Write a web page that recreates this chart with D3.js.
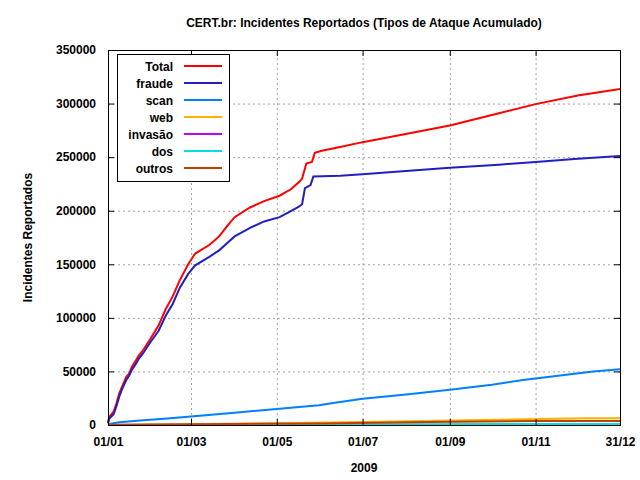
<!DOCTYPE html>
<html><head><meta charset="utf-8">
<script src="https://cdn.jsdelivr.net/npm/d3@7"></script>
<style>
body{margin:0;background:#fff}
svg{display:block}
text{font-family:"Liberation Sans",Arial,Helvetica,sans-serif;font-weight:bold;font-size:12px;fill:#000}
</style>
</head><body>
<svg id="c" width="640" height="480"></svg>
<script>
const titleText = "CERT.br: Incidentes Reportados (Tipos de Ataque Acumulado)";
const yLabel = "Incidentes Reportados";
const xLabel = "2009";
const seriesNames = ["Total","fraude","scan","web","invasão","dos","outros"];
const seriesColors = ["#ff0000","#2020c0","#0080ff","#ffb000","#c000ff","#00e0e0","#c04000"];
const xTickDates = ["2009-01-01","2009-03-01","2009-05-01","2009-07-01","2009-09-01","2009-11-01","2009-12-31"];
const xTickLabels = ["01/01","01/03","01/05","01/07","01/09","01/11","31/12"];
const yTicks = [0,50000,100000,150000,200000,250000,300000,350000];

const totalDates = ["2009-01-01","2009-01-02","2009-01-05","2009-01-07","2009-01-09","2009-01-11","2009-01-14","2009-01-16","2009-01-18","2009-01-21","2009-01-23","2009-01-26","2009-01-31","2009-02-06","2009-02-11","2009-02-16","2009-02-21","2009-02-27","2009-03-04","2009-03-14","2009-03-21","2009-03-27","2009-04-01","2009-04-12","2009-04-22","2009-05-03","2009-05-11","2009-05-17","2009-05-19","2009-05-22","2009-05-26","2009-05-28","2009-06-02","2009-06-15","2009-07-01","2009-07-27","2009-09-01","2009-10-06","2009-11-01","2009-12-01","2009-12-31"];
const totalValues = [3000,7800,12400,20200,29600,35700,45000,48000,54400,60700,65000,70000,80000,93000,108000,120000,135000,150000,160000,168000,176000,186000,194000,203000,209000,214000,220000,227000,230000,244000,245500,254000,256000,259500,264000,270500,279500,291000,299500,307500,313500];

const fraudeDates = ["2009-01-01","2009-01-02","2009-01-05","2009-01-07","2009-01-09","2009-01-11","2009-01-14","2009-01-16","2009-01-18","2009-01-21","2009-01-23","2009-01-26","2009-01-31","2009-02-06","2009-02-11","2009-02-16","2009-02-21","2009-02-27","2009-03-04","2009-03-14","2009-03-21","2009-03-27","2009-04-01","2009-04-12","2009-04-22","2009-05-03","2009-05-10","2009-05-17","2009-05-19","2009-05-21","2009-05-25","2009-05-27","2009-06-15","2009-07-01","2009-07-27","2009-09-01","2009-10-06","2009-11-01","2009-12-01","2009-12-31"];
const fraudeValues = [1500,6000,10000,17500,26500,33500,42000,46000,51500,57500,62000,67000,77000,88000,102000,113000,128000,141000,149000,157000,163000,170000,176000,184000,190000,194000,199000,204000,206000,221000,224000,232000,232700,234000,236500,240000,243000,245500,248500,251000];

const scanDates = ["2009-01-01","2009-01-04","2009-01-09","2009-01-26","2009-02-10","2009-03-01","2009-04-01","2009-05-01","2009-05-31","2009-06-10","2009-07-01","2009-08-01","2009-09-01","2009-10-01","2009-10-23","2009-11-17","2009-12-12","2009-12-31"];
const scanValues = [500,1500,2500,4400,5900,8000,11500,14900,18500,20500,24400,28500,33000,37500,42000,46000,50000,52000];

const webDates = ["2009-01-01","2009-02-07","2009-04-15","2009-06-08","2009-08-02","2009-10-06","2009-12-07","2009-12-31"];
const webValues = [0,500,1300,2300,3500,5000,6300,6300];

const invasaoDates = ["2009-01-01","2009-04-01","2009-08-01","2009-12-31"];
const invasaoValues = [0,100,200,300];

const dosDates = ["2009-01-01","2009-08-17","2009-11-01","2009-12-31"];
const dosValues = [0,800,1000,1000];

const outrosDates = ["2009-01-01","2009-03-09","2009-05-31","2009-08-17","2009-11-01","2009-12-31"];
const outrosValues = [200,700,1500,2800,3800,3800];

const seriesDates = [totalDates,fraudeDates,scanDates,webDates,invasaoDates,dosDates,outrosDates];
const seriesValues = [totalValues,fraudeValues,scanValues,webValues,invasaoValues,dosValues,outrosValues];

const parse = d3.utcParse("%Y-%m-%d");
const L = 108, R = 620, T = 50, B = 425;
const svg = d3.select("#c");

const x = d3.scaleUtc().domain([parse("2009-01-01"), parse("2009-12-31")]).range([L, R]);
const y = d3.scaleLinear().domain([0, 350000]).range([B, T]);
const xTicks = xTickDates.map(parse);

// grid
const gridStyle = g => g.selectAll("line").attr("stroke","#a0a0a0").attr("stroke-dasharray","2,3").attr("stroke-width",1);
const gx = svg.append("g").attr("transform",`translate(0,${B})`)
  .call(d3.axisBottom(x).tickValues(xTicks.slice(1,-1)).tickSize(-(B-T)).tickFormat(""));
gx.select(".domain").remove(); gridStyle(gx);
const gy = svg.append("g").attr("transform",`translate(${L},0)`)
  .call(d3.axisLeft(y).tickValues(yTicks.slice(1,-1)).tickSize(-(R-L)).tickFormat(""));
gy.select(".domain").remove(); gridStyle(gy);

// lines
const line = d3.line().x(d => x(d[0])).y(d => y(d[1]));
seriesNames.forEach((n,i) => {
  const pts = seriesDates[i].map((d,j) => [parse(d), seriesValues[i][j]]);
  svg.append("path").datum(pts).attr("d", line)
    .attr("fill","none").attr("stroke",seriesColors[i]).attr("stroke-width",2)
    .attr("stroke-linejoin","miter");
});

// axes
const fmtX = d => xTickLabels[xTicks.findIndex(t => +t === +d)];
const styleAxis = g => { g.select(".domain").remove(); g.selectAll("line").attr("stroke","#000"); g.selectAll("text").attr("font-size",null).attr("font-family",null).attr("fill","#000"); };
const ab = svg.append("g").attr("transform",`translate(0,${B})`).call(d3.axisBottom(x).tickValues(xTicks).tickSize(-6).tickPadding(12).tickFormat(fmtX));
styleAxis(ab);
const at = svg.append("g").attr("transform",`translate(0,${T})`).call(d3.axisTop(x).tickValues(xTicks).tickSize(-6).tickFormat(""));
styleAxis(at);
const al = svg.append("g").attr("transform",`translate(${L},0)`).call(d3.axisLeft(y).tickValues(yTicks).tickSize(-6).tickPadding(12).tickFormat(d3.format("d")));
styleAxis(al);
const ar = svg.append("g").attr("transform",`translate(${R},0)`).call(d3.axisRight(y).tickValues(yTicks).tickSize(-6).tickFormat(""));
styleAxis(ar);

// frame
svg.append("rect").attr("x",L+0.5).attr("y",T+0.5).attr("width",R-L).attr("height",B-T)
  .attr("fill","none").attr("stroke","#000").attr("stroke-width",1);

// legend
const lg = svg.append("g");
lg.append("rect").attr("x",117.5).attr("y",54.5).attr("width",112).attr("height",127)
  .attr("fill","#fff").attr("stroke","#000");
seriesNames.forEach((n,i) => {
  const cy = 66 + i*17;
  lg.append("text").attr("x",173).attr("y",cy+4.5).attr("text-anchor","end").text(n);
  lg.append("line").attr("x1",184).attr("x2",222).attr("y1",cy).attr("y2",cy)
    .attr("stroke",seriesColors[i]).attr("stroke-width",2);
});

// titles
svg.append("text").attr("x",(L+R)/2).attr("y",27).attr("text-anchor","middle").text(titleText);
svg.append("text").attr("transform",`translate(32,${(T+B)/2}) rotate(-90)`).attr("text-anchor","middle").text(yLabel);
svg.append("text").attr("x",(L+R)/2).attr("y",472).attr("text-anchor","middle").text(xLabel);
</script>
</body></html>
